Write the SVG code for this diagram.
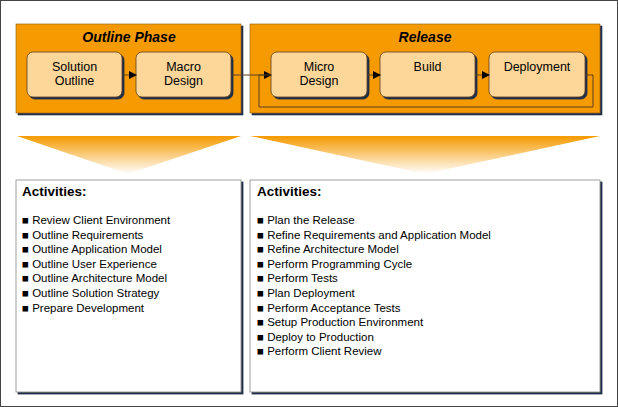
<svg xmlns="http://www.w3.org/2000/svg" width="618" height="407" viewBox="0 0 618 407">
<style>
text{font-family:"Liberation Sans",Arial,sans-serif;fill:#000}
.ph{fill:#f59a00;stroke:#8a5a00;stroke-width:0.6}
.sh{fill:#1e2d4a}
.nd{fill:#fdd69a;stroke:#5a4020;stroke-width:0.8}
.nt{font-size:12.5px;text-anchor:middle}
.ttl{font-size:14px;font-weight:bold;font-style:italic;text-anchor:middle}
.ab{fill:#fff;stroke:#888;stroke-width:0.8}
.ah{font-size:13.5px;font-weight:bold}
.it{font-size:11.5px}
.cn{fill:none;stroke:#5a4020;stroke-width:1}
</style>
<defs>
<marker id="ar" markerWidth="8" markerHeight="8" refX="7" refY="4" orient="auto" markerUnits="userSpaceOnUse"><path d="M0,0L8,4L0,8z" fill="#000"/></marker>
<linearGradient id="tg" x1="0" y1="0" x2="0" y2="1"><stop offset="0" stop-color="#f59a00"/><stop offset="1" stop-color="#fff"/></linearGradient>
<filter id="sd"><feDropShadow dx="2" dy="2" stdDeviation="0.3" flood-color="#1e2d4a"/></filter>
</defs>
<rect x="0.5" y="0.5" width="617" height="406" fill="#fff" stroke="#444"/>
<g id="outline-phase">
<rect class="ph" x="16" y="24" width="225" height="89" filter="url(#sd)"/>
<text class="ttl" x="129" y="42">Outline Phase</text>
</g>
<g id="release-phase">
<rect class="ph" x="250" y="24" width="350" height="89" filter="url(#sd)"/>
<text class="ttl" x="425" y="42">Release</text>
</g>
<g id="solution-outline"><rect class="nd" x="27" y="52" width="95" height="45" rx="6" filter="url(#sd)"/><text class="nt" x="74.5" y="71">Solution</text><text class="nt" x="74.5" y="85">Outline</text></g>
<g id="macro-design"><rect class="nd" x="136" y="52" width="95" height="45" rx="6" filter="url(#sd)"/><text class="nt" x="183.5" y="71">Macro</text><text class="nt" x="183.5" y="85">Design</text></g>
<g id="micro-design"><rect class="nd" x="271" y="52" width="96" height="45" rx="6" filter="url(#sd)"/><text class="nt" x="319" y="71">Micro</text><text class="nt" x="319" y="85">Design</text></g>
<g id="build"><rect class="nd" x="380" y="52" width="95" height="45" rx="6" filter="url(#sd)"/><text class="nt" x="427.5" y="71">Build</text></g>
<g id="deployment"><rect class="nd" x="489" y="52" width="96" height="45" rx="6" filter="url(#sd)"/><text class="nt" x="537" y="71">Deployment</text></g>
<g id="connectors">
<path class="cn" d="M122,75H136" marker-end="url(#ar)"/>
<path class="cn" d="M231,75H271" marker-end="url(#ar)"/>
<path class="cn" d="M367,75H380" marker-end="url(#ar)"/>
<path class="cn" d="M475,75H489" marker-end="url(#ar)"/>
<path class="cn" d="M585,75H593V107H259V75H271"/>
</g>
<g id="funnels">
<polygon points="17,136 241,136 128,174" fill="url(#tg)"/>
<polygon points="250,136 600,136 425,174" fill="url(#tg)"/>
</g>
<g id="activities-outline">
<rect class="ab" x="16" y="180" width="225" height="212" filter="url(#sd)"/>
<text class="ah" x="22" y="196">Activities:</text>
<text class="it" x="22" y="224">■ Review Client Environment</text>
<text class="it" x="22" y="238.6">■ Outline Requirements</text>
<text class="it" x="22" y="253.2">■ Outline Application Model</text>
<text class="it" x="22" y="267.8">■ Outline User Experience</text>
<text class="it" x="22" y="282.4">■ Outline Architecture Model</text>
<text class="it" x="22" y="297">■ Outline Solution Strategy</text>
<text class="it" x="22" y="311.6">■ Prepare Development</text>
</g>
<g id="activities-release">
<rect class="ab" x="250" y="180" width="350" height="212" filter="url(#sd)"/>
<text class="ah" x="257" y="196">Activities:</text>
<text class="it" x="257" y="224">■ Plan the Release</text>
<text class="it" x="257" y="238.6">■ Refine Requirements and Application Model</text>
<text class="it" x="257" y="253.2">■ Refine Architecture Model</text>
<text class="it" x="257" y="267.8">■ Perform Programming Cycle</text>
<text class="it" x="257" y="282.4">■ Perform Tests</text>
<text class="it" x="257" y="297">■ Plan Deployment</text>
<text class="it" x="257" y="311.6">■ Perform Acceptance Tests</text>
<text class="it" x="257" y="326.2">■ Setup Production Environment</text>
<text class="it" x="257" y="340.8">■ Deploy to Production</text>
<text class="it" x="257" y="355.4">■ Perform Client Review</text>
</g>
</svg>
